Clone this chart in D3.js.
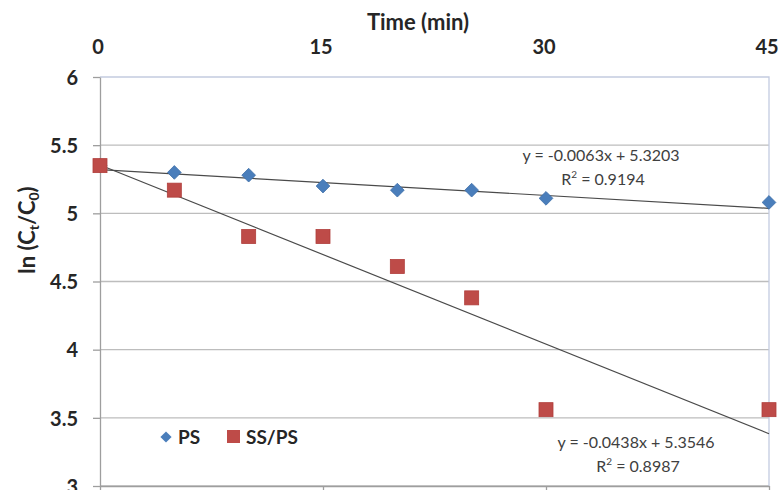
<!DOCTYPE html>
<html>
<head>
<meta charset="utf-8">
<script src="https://cdn.jsdelivr.net/npm/d3@7"></script>
<style>
  html, body { margin: 0; padding: 0; background: #fff; }
  svg { display: block; }
  text { font-family: Lato, "Liberation Sans", sans-serif; }
</style>
</head>
<body>
<svg id="chart" width="784" height="490"></svg>
<script>
// Sampling times (min)
const times = [0, 5, 10, 15, 20, 25, 30, 45];
// ln(Ct/C0) for each series
const psValues = [5.35, 5.30, 5.28, 5.20, 5.17, 5.17, 5.11, 5.08];
const sspsValues = [5.35, 5.17, 4.83, 4.83, 4.61, 4.38, 3.56, 3.56];
// Axis ticks
const xTicks = [0, 15, 30, 45];
const yTicks = [3, 3.5, 4, 4.5, 5, 5.5, 6];
// Linear trend fits: slope, intercept, R²
const psFit = { slope: -0.0063, intercept: 5.3203, r2: "0.9194" };
const sspsFit = { slope: -0.0438, intercept: 5.3546, r2: "0.8987" };

const svg = d3.select("#chart");
const x = d3.scaleLinear().domain([0, 45]).range([100, 769]);
const y = d3.scaleLinear().domain([3, 6]).range([486, 77]);

// Horizontal gridlines
svg.append("g").selectAll("line")
  .data(yTicks.filter(v => v < 6))
  .join("line")
  .attr("x1", x(0)).attr("x2", x(45))
  .attr("y1", d => y(d)).attr("y2", d => y(d))
  .attr("stroke", "#bdbdbd").attr("stroke-width", 1.3);

// Plot area border (top and right)
svg.append("path")
  .attr("d", `M${x(0)},${y(6)}H${x(45)}V${y(3)}`)
  .attr("fill", "none").attr("stroke", "#c3cbe0").attr("stroke-width", 1.3);

// Left value axis with outward ticks
const yAxis = svg.append("g").attr("transform", `translate(${x(0)},0)`)
  .call(d3.axisLeft(y).tickValues(yTicks).tickSize(7).tickSizeOuter(0)
    .tickFormat(d => String(d)));
yAxis.select(".domain").attr("stroke", "#9e9e9e").attr("stroke-width", 1.3);
yAxis.selectAll(".tick line").attr("stroke", "#9e9e9e").attr("stroke-width", 1.3);
yAxis.selectAll(".tick text")
  .attr("x", -22).attr("font-size", 20).attr("font-weight", "bold")
  .attr("fill", "#262626").attr("dy", "0.36em")
  .attr("font-family", "Lato, 'Liberation Sans', sans-serif");

// Bottom time axis line with tick marks; labels sit above the plot
const xAxis = svg.append("g").attr("transform", `translate(0,${y(3)})`)
  .call(d3.axisBottom(x).tickValues(xTicks).tickSize(6).tickSizeOuter(0).tickFormat(""));
xAxis.select(".domain").attr("stroke", "#9e9e9e").attr("stroke-width", 1.3);
xAxis.selectAll(".tick line").attr("stroke", "#9e9e9e").attr("stroke-width", 1.3);

svg.append("g").selectAll("text")
  .data(xTicks)
  .join("text")
  .attr("x", d => x(d) - 2).attr("y", 54)
  .attr("text-anchor", "middle")
  .attr("font-size", 20).attr("font-weight", "bold").attr("fill", "#262626")
  .text(d => d);

// Axis titles
svg.append("text")
  .attr("x", 418).attr("y", 30)
  .attr("text-anchor", "middle")
  .attr("font-size", 22).attr("font-weight", "bold").attr("fill", "#262626")
  .text("Time (min)");

const yTitle = svg.append("text")
  .attr("transform", "translate(35,230) rotate(-90)")
  .attr("text-anchor", "middle")
  .attr("font-size", 22).attr("font-weight", "bold").attr("fill", "#262626");
yTitle.append("tspan").text("ln (C");
yTitle.append("tspan").attr("font-size", 14).attr("dy", 4).text("t");
yTitle.append("tspan").attr("dy", -4).text("/C");
yTitle.append("tspan").attr("font-size", 14).attr("dy", 4).text("0");
yTitle.append("tspan").attr("dy", -4).text(")");

// Trend lines
const fits = [psFit, sspsFit];
svg.append("g").selectAll("line")
  .data(fits)
  .join("line")
  .attr("x1", x(0)).attr("y1", d => y(d.intercept))
  .attr("x2", x(45)).attr("y2", d => y(d.intercept + d.slope * 45))
  .attr("stroke", "#4a4a4a").attr("stroke-width", 1.2);

// Markers
const diamond = d3.symbol().type(d3.symbolDiamond2).size(120);
svg.append("g").selectAll("path")
  .data(times.map((t, i) => [t, psValues[i]]))
  .join("path")
  .attr("d", diamond)
  .attr("transform", d => `translate(${x(d[0])},${y(d[1])})`)
  .attr("fill", "#4a7ebb").attr("stroke", "#3d6ea8").attr("stroke-width", 0.8);

const sq = 14;
svg.append("g").selectAll("rect")
  .data(times.map((t, i) => [t, sspsValues[i]]))
  .join("rect")
  .attr("x", d => x(d[0]) - sq / 2).attr("y", d => y(d[1]) - sq / 2)
  .attr("width", sq).attr("height", sq)
  .attr("fill", "#be4b48").attr("stroke", "#b03e3b").attr("stroke-width", 0.8);

// Trend equations
const fmt4 = v => v.toFixed(4);
function eqLabel(fit, cx, cy) {
  const g = svg.append("g").attr("fill", "#404040").attr("font-size", 16)
    .attr("font-family", "'Open Sans', 'Liberation Sans', sans-serif");
  g.append("text").attr("x", cx).attr("y", cy).attr("text-anchor", "middle")
    .text(`y = ${fmt4(fit.slope)}x + ${fmt4(fit.intercept)}`);
  const r = g.append("text").attr("x", cx + 2).attr("y", cy + 24).attr("text-anchor", "middle");
  r.append("tspan").text("R");
  r.append("tspan").attr("font-size", 10).attr("dy", -7).text("2");
  r.append("tspan").attr("dy", 7).text(` = ${fit.r2}`);
}
eqLabel(psFit, 601, 161);
eqLabel(sspsFit, 636, 448);

// Legend
const legend = svg.append("g").attr("font-size", 19).attr("font-weight", "bold").attr("fill", "#262626");
legend.append("path").attr("d", d3.symbol().type(d3.symbolDiamond2).size(80))
  .attr("transform", "translate(166,437)").attr("fill", "#4a7ebb");
legend.append("text").attr("x", 178).attr("y", 444).text("PS");
legend.append("rect").attr("x", 227).attr("y", 430).attr("width", 13).attr("height", 13)
  .attr("fill", "#be4b48");
legend.append("text").attr("x", 246).attr("y", 444).text("SS/PS");
</script>
</body>
</html>
